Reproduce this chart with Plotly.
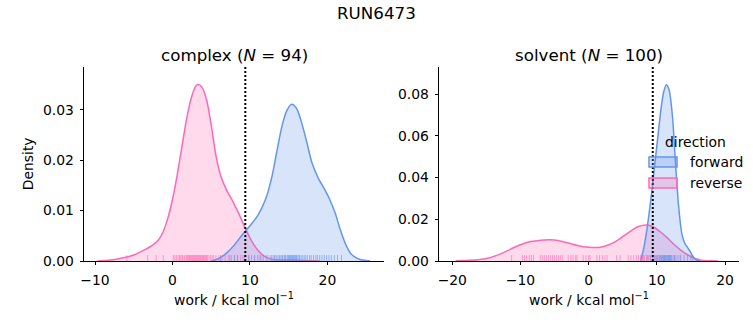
import plotly.graph_objects as go

# ---------------- data ----------------
suptitle = "RUN6473"
phases = ["complex", "solvent"]
phase_n = [94, 100]
estimate = [9.4, 9.4]  # dotted vertical line position (kcal/mol)

# KDE curves: complex
complex_fwd_x = [5.0, 6.0, 7.0, 8.0, 9.0, 10.0, 11.0, 12.0, 12.8, 13.5, 14.2, 14.8, 15.4, 16.0,
                 16.6, 17.3, 18.0, 18.8, 19.6, 20.3, 21.0, 21.6, 22.3, 23.0, 24.0, 25.5]
complex_fwd_y = [0.0, 0.0005, 0.0016, 0.0032, 0.0052, 0.0070, 0.0090, 0.0122, 0.0165, 0.0220,
                 0.0272, 0.0300, 0.0311, 0.0303, 0.0278, 0.0238, 0.0195, 0.0165, 0.0143, 0.0122,
                 0.0095, 0.0065, 0.0035, 0.0015, 0.0004, 0.0]
complex_rev_x = [-9.7, -8.0, -6.5, -5.0, -3.5, -2.5, -1.8, -1.2, -0.6, 0.0, 0.6, 1.2, 1.8, 2.4,
                 3.0, 3.3, 3.8, 4.4, 5.0, 5.6, 6.2, 7.0, 7.8, 8.6, 9.4, 10.2, 11.0, 12.0, 13.0,
                 15.0, 17.0, 19.0]
complex_rev_y = [0.0, 0.0002, 0.0006, 0.0012, 0.0023, 0.0032, 0.0042, 0.0058, 0.0085, 0.0122,
                 0.0170, 0.0225, 0.0280, 0.0322, 0.0347, 0.0350, 0.0345, 0.0320, 0.0270, 0.0210,
                 0.0170, 0.0140, 0.0118, 0.0093, 0.0065, 0.0040, 0.0022, 0.0008, 0.0003, 0.0002,
                 0.0001, 0.0]

# KDE curves: solvent
solvent_fwd_x = [7.6, 8.1, 8.6, 9.1, 9.6, 10.1, 10.6, 11.0, 11.4, 11.8, 12.3, 12.7, 13.2, 13.7,
                 14.1, 14.5, 14.9, 15.3, 15.8, 16.3]
solvent_fwd_y = [0.0, 0.0065, 0.0165, 0.0290, 0.0435, 0.0580, 0.0725, 0.0810, 0.0845, 0.0820,
                 0.0690, 0.0490, 0.0260, 0.0125, 0.0085, 0.0065, 0.0045, 0.0020, 0.0005, 0.0]
solvent_rev_x = [-19.5, -17.5, -16.0, -14.5, -13.0, -11.5, -10.0, -8.5, -7.0, -5.7, -4.5, -3.0,
                 -1.5, 0.0, 1.5, 3.0, 4.5, 6.0, 7.3, 8.5, 9.5, 10.5, 11.5, 12.5, 13.5, 14.5,
                 15.5, 16.5, 18.0, 19.0]
solvent_rev_y = [0.0001, 0.0003, 0.0007, 0.0016, 0.0033, 0.0056, 0.0078, 0.0093, 0.0100, 0.0102,
                 0.0098, 0.0086, 0.0073, 0.0066, 0.0065, 0.0078, 0.0105, 0.0140, 0.0165, 0.0172,
                 0.0163, 0.0140, 0.0112, 0.0080, 0.0052, 0.0030, 0.0013, 0.0004, 0.0001, 0.0]

# rug samples (work values, kcal/mol)
complex_fwd_rug = [6.2, 7.4, 8.0, 8.4, 9.1, 9.8, 10.2, 10.6, 11.0, 11.3, 11.7, 12.1, 12.6, 12.8,
                   13.0, 13.2, 13.4, 13.6, 13.8, 13.9, 14.1, 14.2, 14.4, 14.5, 14.6, 14.8, 14.9,
                   15.0, 15.1, 15.2, 15.3, 15.4, 15.5, 15.6, 15.7, 15.8, 15.9, 16.0, 16.1, 16.3,
                   16.4, 16.6, 16.8, 17.0, 17.2, 17.4, 17.7, 17.9, 18.2, 18.5, 18.7, 19.0, 19.3,
                   19.6, 19.9, 20.2, 20.5, 20.9, 21.3, 21.8]
complex_rev_rug = [-5.9, -3.2, -2.1, -1.2, 0.1, 0.3, 0.5, 0.7, 0.9, 1.0, 1.2, 1.3, 1.5, 1.6, 1.8,
                   1.9, 2.0, 2.1, 2.2, 2.3, 2.4, 2.5, 2.6, 2.7, 2.8, 2.9, 3.0, 3.1, 3.2, 3.3, 3.4,
                   3.5, 3.6, 3.7, 3.8, 3.9, 4.0, 4.1, 4.2, 4.3, 4.4, 4.5, 4.7, 4.9, 5.1, 5.3, 5.6,
                   6.0, 6.4, 6.8, 7.2, 7.6, 8.0, 8.4, 8.8, 9.3, 9.9, 10.6, 11.4, 12.3, 13.2]
solvent_fwd_rug = [8.0, 8.6, 9.0, 9.4, 9.7, 9.9, 10.1, 10.3, 10.4, 10.6, 10.7, 10.8, 10.9, 11.0,
                   11.1, 11.2, 11.3, 11.4, 11.5, 11.6, 11.7, 11.8, 11.9, 12.0, 12.1, 12.2, 12.4,
                   12.6, 12.8, 13.1, 13.5, 14.0, 14.5, 15.0, 15.3]
solvent_rev_rug = [-11.3, -9.7, -9.4, -9.1, -8.7, -8.4, -8.1, -7.1, -6.8, -6.5, -6.2, -5.9, -5.6,
                   -5.3, -5.0, -4.7, -4.4, -4.1, -3.8, -3.0, -2.6, -2.3, -1.9, -1.7, -0.8, -0.4,
                   0.0, 0.2, 1.2, 1.6, 2.0, 2.4, 2.7, 4.1, 4.6, 5.8, 6.2, 6.6, 7.0, 7.3, 7.6, 7.9,
                   8.2, 8.5, 8.8, 9.1, 9.4, 9.7, 10.0, 10.5, 11.1, 11.8, 12.6, 13.4]

# tick values
complex_xticks = [-10, 0, 10, 20]
complex_yticks = [0.0, 0.01, 0.02, 0.03]
solvent_xticks = [-20, -10, 0, 10, 20]
solvent_yticks = [0.0, 0.02, 0.04, 0.06, 0.08]
directions = ["forward", "reverse"]

# ---------------- styling ----------------
W, H = 753, 325
BLUE = "#6495ED"
PINK = "#FF69B4"
BLUE_FILL = "rgba(100,149,237,0.25)"
PINK_FILL = "rgba(255,105,180,0.25)"
BLUE_RUG = "rgba(100,149,237,0.6)"
PINK_RUG = "rgba(255,105,180,0.6)"
FONT = "DejaVu Sans"
TICK = 13.9
TITLE = 16.7


def px(x):
    return x / W


def py(y):
    return (H - y) / H


fig = go.Figure()

panels = [
    dict(xa="x", ya="y", ra="y3",
         fwd=(complex_fwd_x, complex_fwd_y, complex_fwd_rug),
         rev=(complex_rev_x, complex_rev_y, complex_rev_rug)),
    dict(xa="x2", ya="y2", ra="y4",
         fwd=(solvent_fwd_x, solvent_fwd_y, solvent_fwd_rug),
         rev=(solvent_rev_x, solvent_rev_y, solvent_rev_rug)),
]

for p in panels:
    for key, line_c, fill_c in [("rev", PINK, PINK_FILL), ("fwd", BLUE, BLUE_FILL)]:
        xs, ys, rug = p[key]
        fig.add_trace(go.Scatter(x=xs, y=ys, xaxis=p["xa"], yaxis=p["ya"], mode="lines",
                                 line=dict(color=line_c, width=1.5, shape="spline", smoothing=0.8),
                                 fill="tozeroy", fillcolor=fill_c, showlegend=False,
                                 hoverinfo="skip"))
    for key, rug_c in [("rev", PINK_RUG), ("fwd", BLUE_RUG)]:
        rug = p[key][2]
        fig.add_trace(go.Scatter(x=rug, y=[0.0125] * len(rug), xaxis=p["xa"], yaxis=p["ra"],
                                 mode="markers",
                                 marker=dict(symbol="line-ns", size=5,
                                             line=dict(color=rug_c, width=1)),
                                 showlegend=False, hoverinfo="skip"))

axis_common = dict(showgrid=False, zeroline=False, showline=True, linecolor="black",
                   linewidth=0.8, ticks="outside", ticklen=3.5, tickwidth=0.8,
                   tickcolor="black", tickfont=dict(family=FONT, size=TICK, color="black"),
                   mirror=False, automargin=False)

xlabel = "work / kcal mol<sup>−1</sup>"
fig.update_layout(
    width=W, height=H,
    margin=dict(l=0, r=0, t=0, b=0, autoexpand=False),
    paper_bgcolor="white", plot_bgcolor="rgba(0,0,0,0)",
    font=dict(family=FONT, color="black"),
    xaxis=dict(domain=[px(84), px(384)], range=[-11.42, 27.3], tickvals=complex_xticks,
               anchor="y", ticklabelstandoff=3,
               title=dict(text=xlabel, font=dict(family=FONT, size=TICK), standoff=8),
               **axis_common),
    yaxis=dict(domain=[py(261), py(66.7)], range=[0, 0.03855], tickvals=complex_yticks,
               tickformat=".2f", anchor="x", ticklabelstandoff=3,
               title=dict(text="Density", font=dict(family=FONT, size=TICK), standoff=6),
               **axis_common),
    xaxis2=dict(domain=[px(439), px(739)], range=[-21.95, 22.05], tickvals=solvent_xticks,
                anchor="y2", ticklabelstandoff=3,
                title=dict(text=xlabel, font=dict(family=FONT, size=TICK), standoff=8),
                **axis_common),
    yaxis2=dict(domain=[py(261), py(66.7)], range=[0, 0.0931], tickvals=solvent_yticks,
                tickformat=".2f", anchor="x2", ticklabelstandoff=3, **axis_common),
    yaxis3=dict(overlaying="y", range=[0, 1], visible=False, anchor="x"),
    yaxis4=dict(overlaying="y2", range=[0, 1], visible=False, anchor="x2"),
)

# dotted vertical estimate lines
for xa, ya, val in [("x", "y", estimate[0]), ("x2", "y2", estimate[1])]:
    fig.add_shape(type="line", xref=xa, yref=f"{ya} domain",
                  x0=val, x1=val, y0=0, y1=1,
                  line=dict(color="black", width=2, dash="2px,2px"))

# titles
fig.add_annotation(text=suptitle, xref="paper", yref="paper", x=px(376.5), y=py(13),
                   showarrow=False, font=dict(family=FONT, size=TITLE, color="black"),
                   xanchor="center", yanchor="middle")
for i, (ph, n) in enumerate(zip(phases, phase_n)):
    cx = px(234) if i == 0 else px(589)
    fig.add_annotation(text=f"{ph} (<i>N</i> = {n})", xref="paper", yref="paper",
                       x=cx, y=py(54.5), showarrow=False,
                       font=dict(family=FONT, size=TITLE, color="black"),
                       xanchor="center", yanchor="middle")

# legend (drawn manually, frameless like the reference)
fig.add_annotation(text="direction", xref="paper", yref="paper", x=px(695), y=py(142),
                   showarrow=False, font=dict(family=FONT, size=TICK, color="black"),
                   xanchor="center", yanchor="middle")
for name, yc, lc, fc in [(directions[0], 162, BLUE, BLUE_FILL), (directions[1], 183, PINK, PINK_FILL)]:
    fig.add_shape(type="rect", xref="paper", yref="paper", x0=px(649), x1=px(677),
                  y0=py(yc + 5), y1=py(yc - 5), line=dict(color=lc, width=1.5), fillcolor=fc)
    fig.add_annotation(text=name, xref="paper", yref="paper", x=px(687.5), y=py(yc),
                       showarrow=False, font=dict(family=FONT, size=TICK, color="black"),
                       xanchor="left", yanchor="middle")

fig.write_html("out.html")
